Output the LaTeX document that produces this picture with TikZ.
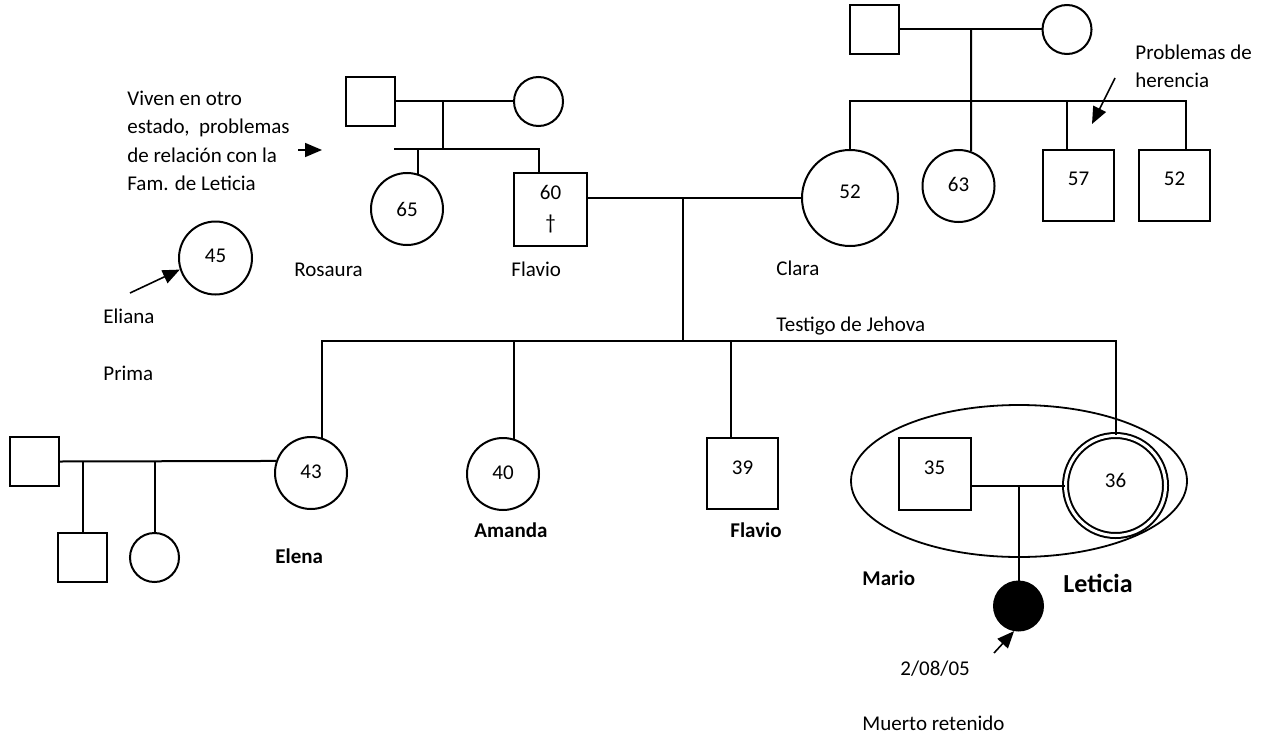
\documentclass[tikz,border=0pt]{standalone}
\usepackage{fontspec}
\setmainfont{Carlito}
\usepackage{tikz}
\usetikzlibrary{positioning,arrows,arrows.meta,calc,shapes}
\tikzset{
    hombre/.style = {
        draw,
        shape=rectangle,
        minimum size=24.5pt,
        inner sep=0pt,
        line width=1pt,
        font=\fontsize{10.5}{14.2}\selectfont
    },
    mujer/.style = {
        draw,
        shape=circle,
        minimum size=24.5pt,
        inner sep=0pt,
        line width=1pt,
        font=\fontsize{10.5}{14.2}\selectfont
    },
    paciente/.style = {
        mujer,
        double,
        double distance=1.5pt
    },
    muerto/.style = {
        mujer,
        fill=black
    },
    grupo/.style = {
        draw,
        shape=ellipse,
        minimum width=168pt,
        minimum height=76pt,
        line width=0.9pt
    },
    nota/.style = {
        anchor=base west,
        inner sep=0pt,
        align=left,
        font=\fontsize{10.5}{14.2}\selectfont
    },
    nombre/.style = {
        nota,
        font=\fontsize{10.5}{14.2}\selectfont\bfseries
    },
    linea/.style = {line width=1pt},
    >={Triangle[length=8.5pt,width=7pt]},
}

\begin{document}
\begin{tikzpicture}[x=0.5pt,y=-0.5pt]
            \useasboundingbox (0,0) rectangle (1272,738);

            % abuelos paternos
            \node[hombre] (abueloF) at (370.5,101.5) {};
            \node[mujer] (abuelaF) at (538.5,101.5) {};
            \node[mujer, minimum size=36pt] (rosaura) at (407,209) {65};
            \node[hombre, minimum size=36.5pt, align=center] (flavio) at (550.5,209) {60\\[1pt]†};

            % abuelos maternos
            \node[hombre] (abueloC) at (874.5,29.5) {};
            \node[mujer] (abuelaC) at (1067,29.5) {};
            \node[mujer, minimum size=48pt] (clara) at (850,198) {\raisebox{6.5pt}{52}\hspace{7pt}};
            \node[mujer, minimum size=36pt] (tia) at (958.5,186) {\raisebox{2pt}{63}};
            \node[hombre, minimum size=35.5pt] (tio1) at (1078.5,185) {\raisebox{6pt}{57}\hspace{3.5pt}};
            \node[hombre, minimum size=35.5pt] (tio2) at (1174.5,185) {\raisebox{6pt}{52}\hspace{4pt}};

            \node[mujer, minimum size=36.5pt] (eliana) at (215.5,258) {\raisebox{2.5pt}{45}};

            % hijos
            \node[mujer, minimum size=36pt] (elena) at (311,473) {\raisebox{1.5pt}{43}};
            \node[hombre] (esposo) at (34.5,461.5) {};
            \node[hombre] (sobrino) at (82.5,557.5) {};
            \node[mujer] (sobrina) at (154.5,557.5) {};
            \node[mujer, minimum size=36pt] (amanda) at (503,474) {\raisebox{1.5pt}{40}};
            \node[hombre, minimum size=35.5pt] (flavioh) at (742.5,473) {\raisebox{5.5pt}{39}\hspace{4.5pt}};
            \node[grupo] (pareja) at (1019,481) {};
            \node[hombre, minimum size=36pt] (mario) at (934.5,473.5) {\raisebox{5.5pt}{35}};
            \node[paciente, minimum size=50pt] (leticia) at (1115.5,485.5) {\raisebox{5.5pt}{36}};
            \node[muerto] (bebe) at (1018.5,606) {};

            \coordinate (uF) at (443,101.5);
            \coordinate (hF) at (443,149);
            \coordinate (hFl) at (394,149);
            \coordinate (uC) at (971,29.5);
            \coordinate (hC) at (971,101);
            \coordinate (uFC) at (683,198);
            \coordinate (hFC) at (683,341);

            \path[draw, linea] (abueloF) -- (abuelaF);
            \path[draw, linea] (uF) -- (hF);
            \path[draw, linea] (hFl) -- (hF) -| ([xshift=-5.75pt]flavio.north);
            \path[draw, linea] (rosaura.72) -- (rosaura.72 |- hF);

            \path[draw, linea] (abueloC) -- (abuelaC);
            \path[draw, linea] (uC) -- (tia.70);
            \path[draw, linea] (clara.north) |- (hC) -| ([xshift=5.75pt]tio2.north);
            \path[draw, linea] ([xshift=-5.75pt]tio1.north) -- ([xshift=-5.75pt]tio1.north |- hC);

            \path[draw, linea] (flavio.east |- clara.west) -- (clara.west);
            \path[draw, linea] (uFC) -- (hFC);
            \path[draw, linea] (elena.72) |- (hFC) -| (leticia.north);
            \path[draw, linea] (amanda.72) -- (amanda.72 |- hFC);
            \path[draw, linea] ([xshift=-5.75pt]flavioh.north) -- ([xshift=-5.75pt]flavioh.north |- hFC);

            \path[draw, linea] (esposo.east) -- (elena.161);
            \path[draw, linea] (sobrino.north) -- (sobrino.north |- esposo.east);
            \path[draw, linea] (sobrina.north) -- (sobrina.north |- esposo.east);

            \path[draw, linea] (mario.east |- leticia.west) -- (leticia.west);
            \path[draw, linea] (bebe.north) -- (bebe.north |- leticia.west);

            % flechas
            \coordinate (flechaV) at (298,150);
            \coordinate (flechaVf) at (322,150);
            \coordinate (flechaE) at (130,293);
            \coordinate (flechaH) at (1115,78);
            \coordinate (flechaHf) at (1092,124);
            \coordinate (flechaB) at (994,653);

            \path[draw, ->, line width=0.8pt] (flechaV) -- (flechaVf);
            \path[draw, ->, line width=0.8pt] (flechaE) -- (eliana.198);
            \path[draw, ->, line width=0.8pt] (flechaH) -- (flechaHf);
            \path[draw, ->, line width=0.8pt] (flechaB) -- (bebe.260);

            % textos
            \node[nota] (viven) at (127,190.7) {Viven en otro\\estado,\ \ problemas\\de relación con la\\Fam. de Leticia};
            \node[nota] (lEliana) at (103,323) {Eliana};
            \node[nota] (lPrima) at (103,380) {Prima};
            \node[nota] (lRosaura) at (294,276) {Rosaura};
            \node[nota] (lFlavio) at (511,276) {Flavio};
            \node[nota] (lClara) at (776,275) {Clara};
            \node[nota] (lTestigo) at (776,331) {Testigo de Jehova};
            \node[nota] (herencia) at (1135,88) {Problemas de\\herencia};
            \node[nombre] (lElena) at (275,563) {Elena};
            \node[nombre] (lAmanda) at (474,537) {Amanda};
            \node[nombre] (lFlavioh) at (730,537) {Flavio};
            \node[nombre] (lMario) at (862,585) {Mario};
            \node[nombre, font=\fontsize{13}{15}\selectfont\bfseries] (lLeticia) at (1063,592) {Leticia};
            \node[nota] (fecha) at (900,675) {2/08/05};
            \node[nota] (lMuerto) at (862,730) {Muerto retenido};

        \end{tikzpicture}
\end{document}
